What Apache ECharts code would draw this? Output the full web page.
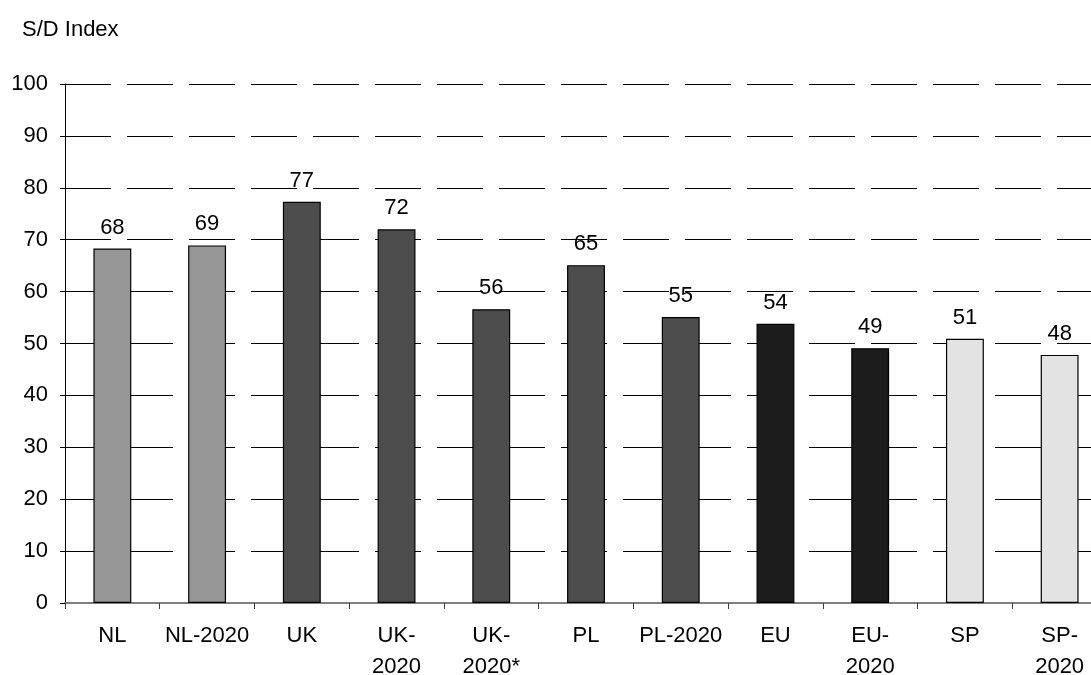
<!DOCTYPE html>
<html>
<head>
<meta charset="utf-8">
<script src="https://cdn.jsdelivr.net/npm/echarts@6/dist/echarts.min.js"></script>
<style>
html,body{margin:0;padding:0;background:#fff;}
#chart{width:1091px;height:675px;}
</style>
</head>
<body>
<div id="chart"></div>
<script>
// ---- data ----
var categories = ['NL', 'NL-2020', 'UK', 'UK-\n2020', 'UK-\n2020*', 'PL', 'PL-2020', 'EU', 'EU-\n2020', 'SP', 'SP-\n2020'];
var values = [68.3, 68.9, 77.3, 72.0, 56.6, 65.1, 55.1, 53.8, 49.1, 50.9, 47.8];
var valueLabels = ['68', '69', '77', '72', '56', '65', '55', '54', '49', '51', '48'];
var yTicks = { min: 0, max: 100, interval: 10 };
var axisTitle = 'S/D Index';

// ---- styles ----
var barColors = ['#969696', '#969696', '#4d4d4d', '#4d4d4d', '#4d4d4d', '#4d4d4d', '#4d4d4d', '#1c1c1c', '#1c1c1c', '#e3e3e3', '#e3e3e3'];
var FONT = 'Liberation Sans, Arial, sans-serif';

var chart = echarts.init(document.getElementById('chart'), null, { renderer: 'canvas' });

var seriesData = values.map(function (v, i) {
  return {
    value: v,
    itemStyle: { color: barColors[i] },
    label: { formatter: valueLabels[i] }
  };
});

chart.setOption({
  animation: false,
  backgroundColor: '#ffffff',
  textStyle: { fontFamily: FONT },
  title: {
    text: axisTitle,
    left: 17,
    top: 14,
    textStyle: { fontFamily: FONT, fontSize: 22, fontWeight: 'normal', color: '#000' }
  },
  grid: { left: 65, right: -16, top: 84, bottom: 72, containLabel: false, outerBoundsMode: 'none' },
  xAxis: {
    type: 'category',
    data: categories,
    boundaryGap: true,
    axisLine: { show: true, lineStyle: { color: '#808080', width: 2 } },
    axisTick: { show: true, length: 6, lineStyle: { color: '#404040', width: 1 } },
    axisLabel: {
      interval: 0, margin: 17, fontSize: 22, lineHeight: 31, color: '#000', fontFamily: FONT
    },
    splitLine: { show: false }
  },
  yAxis: {
    type: 'value',
    min: yTicks.min,
    max: yTicks.max,
    interval: yTicks.interval,
    axisLine: { show: true, lineStyle: { color: '#000', width: 1 } },
    axisTick: { show: true, length: 5, lineStyle: { color: '#000' } },
    axisLabel: { margin: 17, fontSize: 22, color: '#000', fontFamily: FONT },
    splitLine: { show: true, lineStyle: { color: '#000', width: 1, type: [46, 16] } }
  },
  series: [{
    type: 'bar',
    data: seriesData,
    barWidth: '40%',
    itemStyle: { borderColor: '#000', borderWidth: 1.2 },
    label: {
      show: true, position: 'top', distance: 10,
      fontSize: 22, color: '#000', fontFamily: FONT
    }
  }]
});
</script>
</body>
</html>
